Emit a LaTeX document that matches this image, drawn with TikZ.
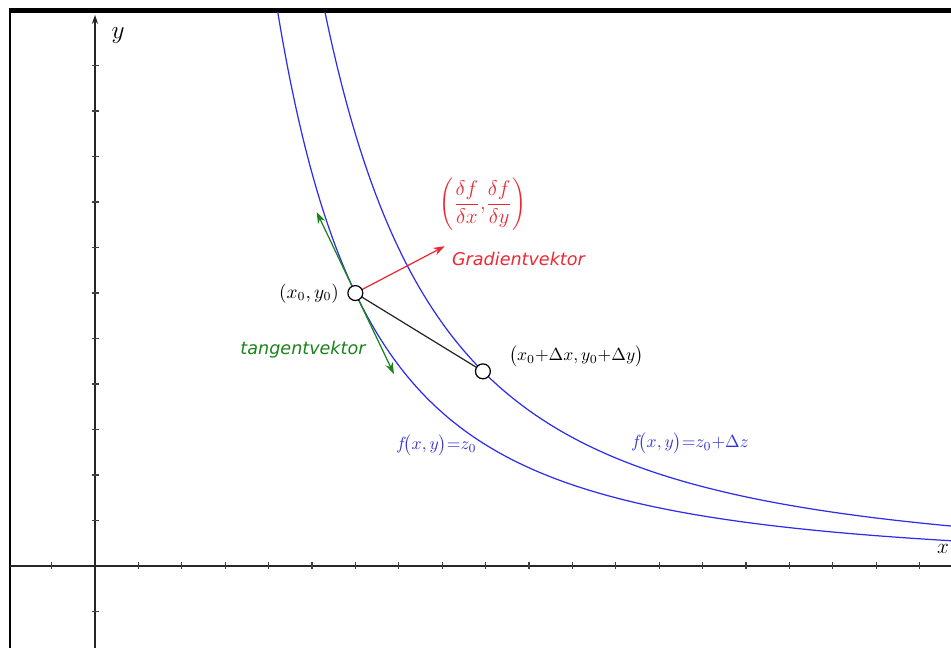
\documentclass[tikz,border=0pt]{standalone}
\usepackage{fontspec}
\newfontfamily\lblfont{DejaVu Sans}
\usetikzlibrary{arrows.meta}
\definecolor{curveblue}{RGB}{45,45,235}
\definecolor{lblblue}{RGB}{50,50,215}
\definecolor{gradred}{RGB}{235,40,50}
\definecolor{tanggreen}{RGB}{25,130,25}
\begin{document}
\begin{tikzpicture}[x=0.02cm,y=-0.02cm,
  frame/.style={black,line width=1.1pt},
  axis/.style={black!85,line width=0.8pt},
  tickmark/.style={black!75,line width=0.6pt},
  curve/.style={curveblue,line width=0.7pt},
  pt/.style={circle,draw=black,fill=white,line width=0.7pt,minimum size=8.5pt,inner sep=0pt},
  vec/.style={line width=0.7pt,-{Stealth[length=6.5pt,width=4.5pt]}},
  txt/.style={font=\lblfont\itshape\fontsize{10}{12}\selectfont,inner sep=1pt},
  mth/.style={font=\fontsize{10}{12}\selectfont,inner sep=1pt}]
\useasboundingbox (0,0) rectangle (951,648);
% frame
\fill[black] (9,8) rectangle (951,13);
\draw[frame] (10,13) -- (10,648);
% axes
\draw[axis] (10,566) -- (951,566);
\draw[axis,-{Stealth[length=5pt,width=3.5pt]}] (95,648) -- (95,15);
\foreach \k in {-1,1,2,...,19} \draw[tickmark] ({95+43.4*\k},562.5) -- ({95+43.4*\k},569.5);
\foreach \k in {-1,1,2,...,11} \draw[tickmark] (91.5,{566-45.5*\k}) -- (98.5,{566-45.5*\k});
\node[font=\fontsize{14}{16}\selectfont] (ylab) at (118,36) {$y$};
\node[font=\fontsize{13}{15}\selectfont,anchor=east,inner sep=1pt] (xlab) at (951,549) {$x$};
% curves
\begin{scope}
\clip (10,13) rectangle (951,648);
\begin{scope}[shift={(95,566)},x=0.868cm,y=0.91cm]
\draw[curve] plot[domain=3.9:20.5,samples=250,smooth] (\x,{216/(\x*\x)});
\draw[curve] plot[domain=4.9:20.5,samples=250,smooth] (\x,{342/(\x*\x)});
\coordinate (p0) at (6,6);
\coordinate (p1) at (8.94,4.279);
\coordinate (g) at (8.06,7.03);
\coordinate (t1) at (5.11,7.78);
\coordinate (t2) at (6.89,4.22);
\end{scope}
\end{scope}
% vectors
\draw[black!85,line width=0.7pt] (p0) -- (p1);
\draw[vec,gradred] (p0) -- (g);
\draw[vec,tanggreen] (p0) -- (t1);
\draw[vec,tanggreen] (p0) -- (t2);
\node[pt] (P0) at (p0) {};
\node[pt] (P1) at (p1) {};
% labels
\node[mth,anchor=east,font=\fontsize{10.5}{12}\selectfont] (l0) at (341,293) {$\bigl(x_0,y_0\bigr)$};
\node[mth,anchor=west] (l1) at (507,356) {$\bigl(x_0{+}\Delta x,y_0{+}\Delta y\bigr)$};
\node[mth,gradred,font=\fontsize{11.5}{13}\selectfont] (grad) at (483,204) {$\displaystyle\left(\frac{\delta f}{\delta x},\!\frac{\delta f}{\delta y}\right)$};
\node[txt,gradred,anchor=west] (gl) at (450,259) {Gradientvektor};
\node[txt,tanggreen] (tl) at (303,350) {tangentvektor};
\node[mth,lblblue,anchor=west] (f0) at (394,445) {$f\!\bigl(x,y\bigr){=}z_0$};
\node[mth,lblblue,anchor=west] (f1) at (629,443) {$f\!\bigl(x,y\bigr){=}z_0{+}\Delta z$};
\end{tikzpicture}
\end{document}
